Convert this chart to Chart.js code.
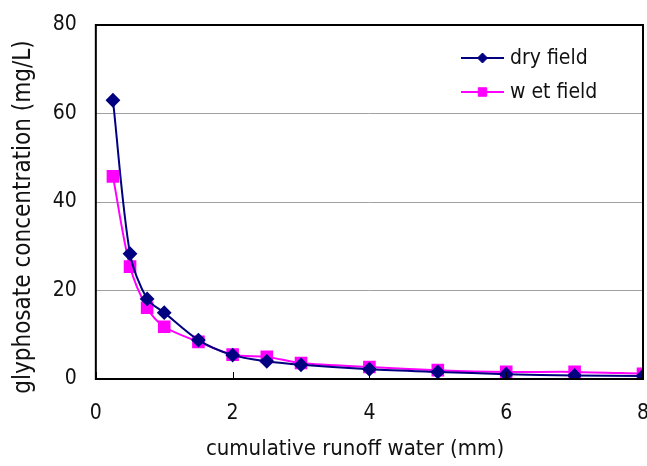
<!DOCTYPE html>
<html>
<head>
<meta charset="utf-8">
<script src="https://cdn.jsdelivr.net/npm/chart.js@4/dist/chart.umd.min.js"></script>
<style>
  html, body { margin: 0; padding: 0; background: #fff; }
  #wrap { width: 647px; height: 466px; }
</style>
</head>
<body>
<div id="wrap"><canvas id="chart" width="647" height="466"></canvas></div>
<script>
// runoff water (mm) and concentrations
const runoff = [0.25, 0.5, 0.75, 1, 1.5, 2, 2.5, 3, 4, 5, 6, 7, 8];
const dryField = [63, 28.3, 18.1, 15, 8.8, 5.4, 4, 3.2, 2.2, 1.6, 1.1, 0.8, 0.7];
const wetField = [45.8, 25.4, 16.1, 11.8, 8.4, 5.5, 5, 3.6, 2.7, 2, 1.6, 1.6, 1.2];
const xTicks = [0, 2, 4, 6, 8];
const yTicks = [0, 20, 40, 60, 80];
const xTitle = "cumulative runoff water (mm)";
const yTitle = "glyphosate concentration (mg/L)";

const font = "'Liberation Sans Narrow', 'DejaVu Sans Condensed', sans-serif";

const toPoints = (ys) => runoff.map((x, i) => ({ x: x, y: ys[i] }));

// frame, inner x tick marks, axis titles and the legend box inside the plot
const framePlugin = {
  id: "frame",
  afterDraw(chart) {
    const { ctx, chartArea: a, scales } = chart;
    ctx.save();
    ctx.strokeStyle = "#000";
    ctx.lineWidth = 2;
    ctx.strokeRect(a.left, a.top, a.right - a.left, a.bottom - a.top);
    ctx.lineWidth = 1;
    xTicks.forEach((v) => {
      const px = Math.round(scales.x.getPixelForValue(v)) + 0.5;
      ctx.beginPath();
      ctx.moveTo(px, a.bottom);
      ctx.lineTo(px, a.bottom - 7);
      ctx.stroke();
    });
    // titles are not centred on the plot in the original
    ctx.fillStyle = "#111";
    ctx.textAlign = "center";
    ctx.textBaseline = "middle";
    ctx.font = "22px " + font;
    ctx.fillText(xTitle, 355, 449);
    ctx.save();
    ctx.translate(23.4, 217);
    ctx.rotate(-Math.PI / 2);
    ctx.font = "24px " + font;
    ctx.fillText(yTitle, 0, 0);
    ctx.restore();
    // legend
    ctx.textAlign = "left";
    const lx = 461, ly = 58, gap = 34;
    chart.data.datasets.forEach((ds, i) => {
      const y = ly + i * gap;
      ctx.strokeStyle = ds.borderColor;
      ctx.lineWidth = 2;
      ctx.beginPath();
      ctx.moveTo(lx, y);
      ctx.lineTo(lx + 43, y);
      ctx.stroke();
      ctx.fillStyle = ds.backgroundColor;
      ctx.lineWidth = 1;
      Chart.helpers.drawPoint(ctx, {
        pointStyle: ds.pointStyle, radius: ds.pointStyle === "rect" ? 6 : 5, borderWidth: 1
      }, lx + 21.5, y);
      ctx.fillStyle = "#111";
      ctx.font = "21px " + font;
      ctx.fillText(ds.label, lx + 49, y + 1);
    });
    ctx.restore();
  }
};

new Chart(document.getElementById("chart"), {
  type: "line",
  data: {
    datasets: [
      {
        label: "dry field",
        data: toPoints(dryField),
        borderColor: "#000080",
        backgroundColor: "#000080",
        borderWidth: 2,
        pointStyle: "rectRot",
        pointRadius: 6,
        tension: 0.3
      },
      {
        label: "w et field",
        data: toPoints(wetField),
        borderColor: "#ff00ff",
        backgroundColor: "#ff00ff",
        borderWidth: 2,
        pointStyle: "rect",
        pointRadius: 7.5,
        tension: 0.3
      }
    ]
  },
  options: {
    responsive: false,
    animation: false,
    layout: { autoPadding: false, padding: { left: 0, right: 4, top: 25, bottom: 4 } },
    plugins: {
      legend: { display: false },
      tooltip: { enabled: false }
    },
    scales: {
      x: {
        type: "linear",
        min: 0,
        max: 8,
        afterBuildTicks: (s) => { s.ticks = xTicks.map((v) => ({ value: v })); },
        afterFit: (s) => { s.paddingRight = 0; },
        grid: { display: false, drawTicks: false },
        border: { display: false },
        ticks: { color: "#111", font: { family: font, size: 21, lineHeight: 1 }, padding: 24 },
        // space is kept here, the text itself is drawn by the frame plugin
        title: {
          display: true,
          text: xTitle,
          color: "rgba(0,0,0,0)",
          font: { family: font, size: 22, lineHeight: 1 },
          padding: { top: -8, bottom: 0 }
        }
      },
      y: {
        min: 0,
        max: 80,
        afterBuildTicks: (s) => { s.ticks = yTicks.map((v) => ({ value: v })); },
        afterFit: (s) => { s.paddingTop = 0; s.paddingBottom = 0; },
        grid: {
          color: (c) => (c.tick && (c.tick.value === 0 || c.tick.value === 80)) ? "rgba(0,0,0,0)" : "#a0a0a0",
          lineWidth: 1,
          drawTicks: false
        },
        border: { display: false },
        ticks: { color: "#111", font: { family: font, size: 21 }, padding: 19 },
        title: {
          display: true,
          text: yTitle,
          color: "rgba(0,0,0,0)",
          font: { family: font, size: 24 },
          padding: { top: 9, bottom: -4 }
        }
      }
    }
  },
  plugins: [framePlugin]
});
</script>
</body>
</html>
